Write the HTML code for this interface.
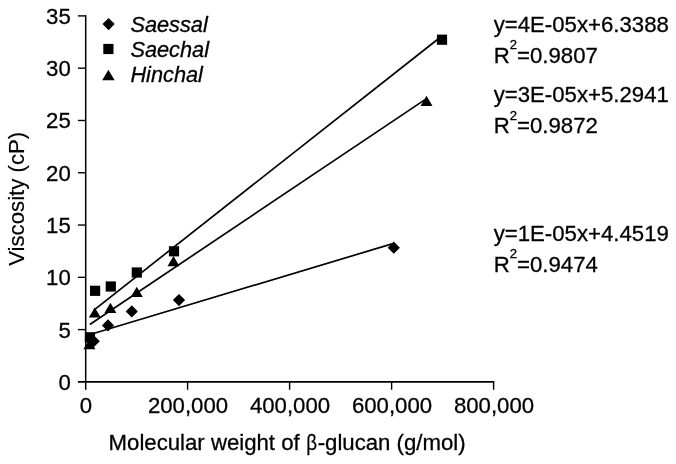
<!DOCTYPE html>
<html><head><meta charset="utf-8"><title>Viscosity vs molecular weight of β-glucan</title>
<style>
html,body{margin:0;padding:0;background:#fff;}
svg{display:block;}
text{font-family:"Liberation Sans",Arial,sans-serif;fill:#000;stroke:#000;stroke-width:0.3px;}
.t{font-size:22.95px;}
.i{font-style:italic;font-size:22.5px;}
</style></head><body>
<svg width="676" height="464" viewBox="0 0 676 464">
<rect width="676" height="464" fill="#fff"/>
<g stroke="#000" stroke-width="1.7" fill="none">

<line x1="85.7" y1="15.3" x2="85.7" y2="389.8" stroke-width="1.5"/>
<line x1="77.9" y1="381.9" x2="494.3" y2="381.9" stroke-width="1.9"/>
<line x1="77.9" y1="329.61" x2="86" y2="329.61" stroke-width="1.4"/>
<line x1="77.9" y1="277.33" x2="86" y2="277.33" stroke-width="1.4"/>
<line x1="77.9" y1="225.04" x2="86" y2="225.04" stroke-width="1.4"/>
<line x1="77.9" y1="172.76" x2="86" y2="172.76" stroke-width="1.4"/>
<line x1="77.9" y1="120.47" x2="86" y2="120.47" stroke-width="1.4"/>
<line x1="77.9" y1="68.19" x2="86" y2="68.19" stroke-width="1.4"/>
<line x1="77.9" y1="15.90" x2="86" y2="15.90" stroke-width="1.4"/>
<line x1="187.60" y1="381.9" x2="187.60" y2="389.8" stroke-width="1.4"/>
<line x1="289.60" y1="381.9" x2="289.60" y2="389.8" stroke-width="1.4"/>
<line x1="391.60" y1="381.9" x2="391.60" y2="389.8" stroke-width="1.4"/>
<line x1="493.60" y1="381.9" x2="493.60" y2="389.8" stroke-width="1.4"/>
<line x1="93.6" y1="310.3" x2="440" y2="37.5"/>
<line x1="89.8" y1="324.5" x2="425" y2="99.6"/>
<line x1="94.3" y1="333.2" x2="392" y2="243.9"/>
</g>
<g fill="#000">

<path d="M108.60 18.00L114.70 24.10L108.60 30.20L102.50 24.10Z"/>
<rect x="103.30" y="43.90" width="10.2" height="10.2"/>
<path d="M108.40 69.80L114.60 80.30L102.20 80.30Z"/>
<rect x="84.80" y="332.20" width="10.2" height="10.2"/>
<rect x="90.00" y="285.70" width="10.2" height="10.2"/>
<rect x="105.70" y="281.40" width="10.2" height="10.2"/>
<rect x="131.70" y="267.40" width="10.2" height="10.2"/>
<rect x="168.90" y="246.20" width="10.2" height="10.2"/>
<rect x="436.90" y="34.60" width="10.2" height="10.2"/>
<path d="M93.70 335.10L99.80 341.20L93.70 347.30L87.60 341.20Z"/>
<path d="M108.00 319.30L114.10 325.40L108.00 331.50L101.90 325.40Z"/>
<path d="M131.80 305.30L137.90 311.40L131.80 317.50L125.70 311.40Z"/>
<path d="M179.00 294.00L185.10 300.10L179.00 306.20L172.90 300.10Z"/>
<path d="M393.80 241.60L399.90 247.70L393.80 253.80L387.70 247.70Z"/>
<path d="M89.40 339.10L95.40 349.30L83.40 349.30Z"/>
<path d="M94.80 307.40L100.80 317.60L88.80 317.60Z"/>
<path d="M110.40 302.80L116.40 313.00L104.40 313.00Z"/>
<path d="M136.80 286.80L142.80 297.00L130.80 297.00Z"/>
<path d="M173.50 256.00L179.50 266.20L167.50 266.20Z"/>
<path d="M426.50 95.80L432.50 106.00L420.50 106.00Z"/>
</g>

<g class="t">

<text transform="translate(70.8,389.8) scale(0.967,1)" text-anchor="end">0</text>
<text transform="translate(70.8,337.51) scale(0.967,1)" text-anchor="end">5</text>
<text transform="translate(70.8,285.23) scale(0.967,1)" text-anchor="end">10</text>
<text transform="translate(70.8,232.94) scale(0.967,1)" text-anchor="end">15</text>
<text transform="translate(70.8,180.66) scale(0.967,1)" text-anchor="end">20</text>
<text transform="translate(70.8,128.37) scale(0.967,1)" text-anchor="end">25</text>
<text transform="translate(70.8,76.09) scale(0.967,1)" text-anchor="end">30</text>
<text transform="translate(70.8,23.8) scale(0.967,1)" text-anchor="end">35</text>
<text transform="translate(86.0,413.3) scale(0.967,1)" text-anchor="middle">0</text>
<text transform="translate(188.0,413.3) scale(0.967,1)" text-anchor="middle">200,000</text>
<text transform="translate(290.0,413.3) scale(0.967,1)" text-anchor="middle">400,000</text>
<text transform="translate(392.0,413.3) scale(0.967,1)" text-anchor="middle">600,000</text>
<text transform="translate(494.0,413.3) scale(0.967,1)" text-anchor="middle">800,000</text>
<text transform="translate(130.4,31.9) scale(0.967,1)" class="i">Saessal</text>
<text transform="translate(130.4,56.9) scale(0.967,1)" class="i">Saechal</text>
<text transform="translate(130.4,81.7) scale(0.967,1)" class="i">Hinchal</text>
<text transform="translate(108.6,450.1) scale(0.967,1)">Molecular weight of</text>
<text transform="translate(306.3,450.1) scale(0.82,1)" style="stroke-width:0.25px">β</text>
<text transform="translate(465.6,450.1) scale(0.967,1)" text-anchor="end">-glucan (g/mol)</text>
<text transform="translate(23.6,265.8) rotate(-90) scale(0.967,1)" style="stroke-width:0.15px">Viscosity</text>
<text transform="translate(23.6,131.8) rotate(-90) scale(0.967,1)" text-anchor="end" style="stroke-width:0.15px">(cP)</text>
<text transform="translate(493.7,31.9) scale(0.967,1)">y=4E-05x+6.3388</text>
<text transform="translate(493.7,62.9) scale(0.967,1)">R<tspan dy="-13.6" font-size="13.6px">2</tspan><tspan dy="13.6">=0.9807</tspan></text>
<text transform="translate(493.7,102.1) scale(0.967,1)">y=3E-05x+5.2941</text>
<text transform="translate(493.7,133.1) scale(0.967,1)">R<tspan dy="-13.6" font-size="13.6px">2</tspan><tspan dy="13.6">=0.9872</tspan></text>
<text transform="translate(493.7,240.6) scale(0.967,1)">y=1E-05x+4.4519</text>
<text transform="translate(493.7,271.6) scale(0.967,1)">R<tspan dy="-13.6" font-size="13.6px">2</tspan><tspan dy="13.6">=0.9474</tspan></text>
</g>
</svg>
</body></html>
